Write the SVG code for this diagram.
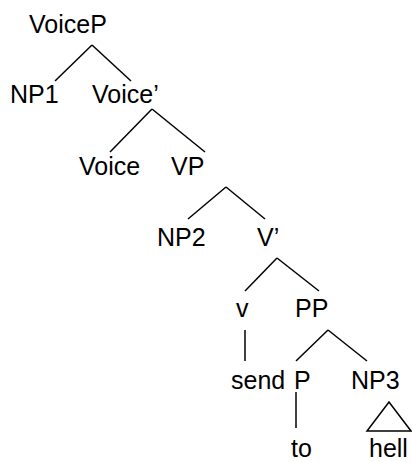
<svg xmlns="http://www.w3.org/2000/svg" width="412" height="462" viewBox="0 0 412 462">
<style>
text{font-family:"Liberation Sans","Noto Sans",sans-serif;font-size:25px;fill:#000}
.c line,.c polygon{stroke:#000;stroke-width:1.5;fill:none}
</style>
<rect width="412" height="462" fill="#fff"/>
<g class="c" id="connectors">
<line x1="92" y1="45" x2="55" y2="81"/>
<line x1="92" y1="45" x2="131" y2="81"/>
<line x1="152" y1="109" x2="110" y2="152"/>
<line x1="152" y1="109" x2="205" y2="152"/>
<line x1="226" y1="187" x2="188" y2="219"/>
<line x1="226" y1="187" x2="265" y2="219"/>
<line x1="277" y1="258" x2="245" y2="291"/>
<line x1="277" y1="258" x2="319" y2="291"/>
<line x1="245" y1="330" x2="245" y2="361"/>
<line x1="328" y1="330" x2="296" y2="361"/>
<line x1="328" y1="330" x2="367" y2="361"/>
<line x1="296" y1="392" x2="296" y2="428"/>
<polygon points="389,402 367,431 411,431"/>
</g>
<g id="VoiceP"><text x="29" y="33">VoiceP</text></g>
<g id="NP1"><text x="10" y="103">NP1</text></g>
<g id="VoiceBar"><text x="92" y="103">Voice’</text></g>
<g id="Voice"><text x="79" y="175">Voice</text></g>
<g id="VP"><text x="171" y="175">VP</text></g>
<g id="NP2"><text x="157" y="246">NP2</text></g>
<g id="VBar"><text x="257" y="246">V’</text></g>
<g id="v"><text x="236" y="317">v</text></g>
<g id="PP"><text x="295" y="317">PP</text></g>
<g id="send"><text x="231" y="389">send</text></g>
<g id="P"><text x="294" y="389">P</text></g>
<g id="NP3"><text x="351" y="389">NP3</text></g>
<g id="to"><text x="291" y="457">to</text></g>
<g id="hell"><text x="369" y="457">hell</text></g>
</svg>
